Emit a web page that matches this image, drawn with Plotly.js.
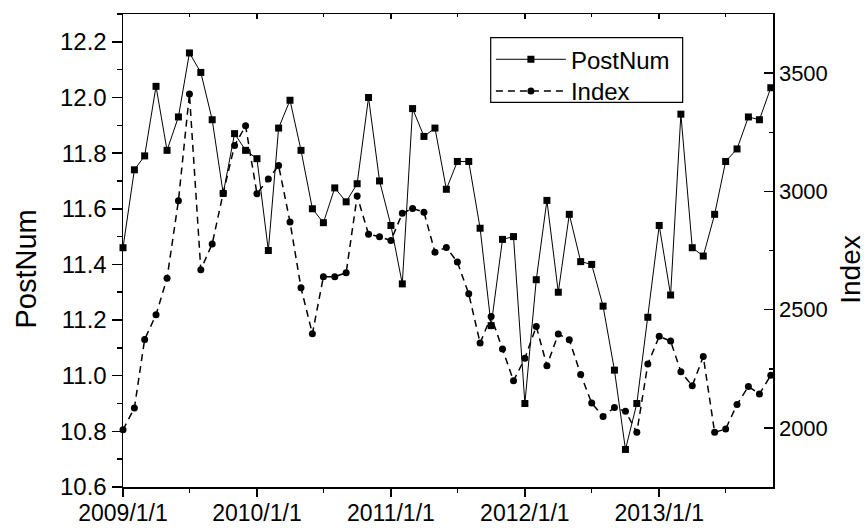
<!DOCTYPE html>
<html>
<head>
<meta charset="utf-8">
<script src="https://cdn.plot.ly/plotly-3.0.1.min.js"></script>
<style>html,body{margin:0;padding:0;background:#fff;}#chart{width:868px;height:528px;}</style>
</head>
<body>
<div id="chart"></div>
<script>
const months = [
 '2009-01-01','2009-02-01','2009-03-01','2009-04-01','2009-05-01','2009-06-01','2009-07-01','2009-08-01','2009-09-01','2009-10-01','2009-11-01','2009-12-01',
 '2010-01-01','2010-02-01','2010-03-01','2010-04-01','2010-05-01','2010-06-01','2010-07-01','2010-08-01','2010-09-01','2010-10-01','2010-11-01','2010-12-01',
 '2011-01-01','2011-02-01','2011-03-01','2011-04-01','2011-05-01','2011-06-01','2011-07-01','2011-08-01','2011-09-01','2011-10-01','2011-11-01','2011-12-01',
 '2012-01-01','2012-02-01','2012-03-01','2012-04-01','2012-05-01','2012-06-01','2012-07-01','2012-08-01','2012-09-01','2012-10-01','2012-11-01','2012-12-01',
 '2013-01-01','2013-02-01','2013-03-01','2013-04-01','2013-05-01','2013-06-01','2013-07-01','2013-08-01','2013-09-01','2013-10-01','2013-11-01'
];
const postNum = [
 11.46,11.74,11.79,12.04,11.81,11.93,12.16,12.09,11.92,11.655,11.87,11.81,
 11.78,11.45,11.89,11.99,11.81,11.60,11.55,11.675,11.625,11.69,12.00,11.70,
 11.54,11.33,11.96,11.86,11.89,11.67,11.77,11.77,11.53,11.18,11.49,11.50,
 10.90,11.345,11.63,11.30,11.58,11.41,11.40,11.25,11.02,10.735,10.90,11.21,
 11.54,11.29,11.94,11.46,11.43,11.58,11.77,11.815,11.93,11.92,12.035
];
const indexVals = [
 1992,2084,2374,2478,2633,2960,3412,2669,2778,2993,3194,3277,
 2990,3052,3109,2871,2592,2398,2639,2639,2656,2980,2819,2808,
 2792,2907,2928,2912,2743,2763,2701,2567,2359,2471,2333,2199,
 2294,2429,2263,2397,2373,2226,2105,2048,2086,2070,1981,2270,
 2387,2367,2237,2178,2302,1981,1995,2099,2175,2143,2222
];
const xTickVals = ['2009-01-01','2010-01-01','2011-01-01','2012-01-01','2013-01-01'];
const xTickText = ['2009/1/1','2010/1/1','2011/1/1','2012/1/1','2013/1/1'];
const leftTicks = [10.6,10.8,11.0,11.2,11.4,11.6,11.8,12.0,12.2];
const rightTicks = [2000,2500,3000,3500];
const leftTitle = 'PostNum';
const rightTitle = 'Index';

const FONT = 'Liberation Sans, Arial, sans-serif';
const xRange = ['2009-01-01','2013-11-07'];

const traces = [
 {x: months, y: postNum, name: 'PostNum', type: 'scatter', mode: 'lines+markers', legend: 'legend',
  line: {color: '#000', width: 1}, marker: {symbol: 'square', size: 7, color: '#000'},
  cliponaxis: false},
 {x: months, y: indexVals, name: 'Index', type: 'scatter', mode: 'lines+markers', yaxis: 'y2', legend: 'legend2',
  line: {color: '#000', width: 1.5, dash: '7px,5px'}, marker: {symbol: 'circle', size: 7, color: '#000'},
  cliponaxis: false},
 {x: [], y: [], xaxis: 'x2', showlegend: false, hoverinfo: 'skip'}
];

const legendBase = {xanchor: 'left', yanchor: 'top', borderwidth: 0, bgcolor: 'rgba(0,0,0,0)',
   font: {family: FONT, size: 24, color: '#000'}, itemwidth: 70};

const layout = {
 width: 868, height: 528,
 margin: {l: 123, r: 95, t: 14, b: 41},
 paper_bgcolor: '#fff', plot_bgcolor: '#fff',
 font: {family: FONT, size: 24, color: '#000'},
 showlegend: true,
 legend: Object.assign({x: 0.566, y: 0.951}, legendBase),
 legend2: Object.assign({x: 0.566, y: 0.884}, legendBase),
 shapes: [
   {type: 'rect', xref: 'paper', yref: 'paper', x0: 0.5657, x1: 0.861, y0: 0.8133, y1: 0.9499,
    line: {color: '#000', width: 1.2}, fillcolor: 'rgba(0,0,0,0)', layer: 'above'}
 ],
 annotations: [
   {text: leftTitle, xref: 'paper', yref: 'paper', x: -0.149, y: 0.46, textangle: -90,
    showarrow: false, xanchor: 'center', yanchor: 'middle', font: {family: FONT, size: 29, color: '#000'}},
   {text: rightTitle, xref: 'paper', yref: 'paper', x: 1.119, y: 0.46, textangle: -90,
    showarrow: false, xanchor: 'center', yanchor: 'middle', font: {family: FONT, size: 28, color: '#000'}}
 ],
 xaxis: {type: 'date', range: xRange, tickmode: 'array', tickvals: xTickVals, ticktext: xTickText,
   showgrid: false, zeroline: false, showline: true, linecolor: '#000', linewidth: 1.5,
   ticks: 'outside', ticklen: 8, tickwidth: 1.5, tickcolor: '#000', ticklabelstandoff: -3,
   minor: {dtick: 'M6', tick0: '2009-01-01', ticks: 'outside', ticklen: 4, tickwidth: 1.5, tickcolor: '#000', showgrid: false},
   tickfont: {family: FONT, size: 23}},
 xaxis2: {type: 'date', range: xRange, overlaying: 'x', side: 'top', anchor: 'y', tickmode: 'array', tickvals: xTickVals,
   showticklabels: false, showgrid: false, zeroline: false, showline: true, linecolor: '#000', linewidth: 1.5,
   ticks: 'inside', ticklen: 5, tickwidth: 1.5, tickcolor: '#000',
   minor: {dtick: 'M6', tick0: '2009-01-01', ticks: 'inside', ticklen: 3, tickwidth: 1.5, tickcolor: '#000', showgrid: false}},
 yaxis: {range: [10.6, 12.3], tickmode: 'array', tickvals: leftTicks, tickformat: '.1f',
   showgrid: false, zeroline: false, showline: true, linecolor: '#000', linewidth: 1.5,
   ticks: 'outside', ticklen: 10, tickwidth: 1.5, tickcolor: '#000',
   minor: {dtick: 0.1, tick0: 10.6, ticks: 'outside', ticklen: 5, tickwidth: 1.5, tickcolor: '#000', showgrid: false},
   tickfont: {family: FONT, size: 24}},
 yaxis2: {range: [1750, 3750], overlaying: 'y', side: 'right', anchor: 'x', tickmode: 'array', tickvals: rightTicks,
   showgrid: false, zeroline: false, showline: true, linecolor: '#000', linewidth: 1.5,
   ticks: 'inside', ticklen: 9, tickwidth: 1.5, tickcolor: '#000',
   minor: {dtick: 250, tick0: 1750, ticks: 'inside', ticklen: 4, tickwidth: 1.5, tickcolor: '#000', showgrid: false},
   tickfont: {family: FONT, size: 22}}
};

Plotly.newPlot('chart', traces, layout, {displayModeBar: false, staticPlot: true});
</script>
</body>
</html>
